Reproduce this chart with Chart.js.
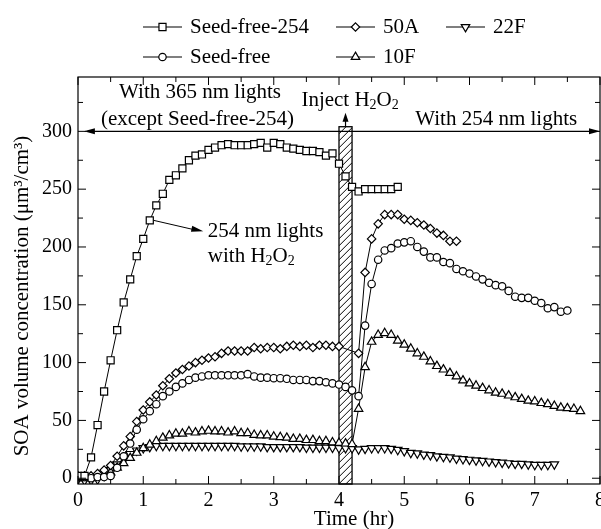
<!DOCTYPE html>
<html>
<head>
<meta charset="utf-8">
<script src="https://cdn.jsdelivr.net/npm/chart.js"></script>
<style>
  html, body { margin: 0; padding: 0; overflow: hidden; background: #fff; }
  #wrap { width: 620px; height: 529px; }
</style>
</head>
<body>
<div id="wrap"><canvas id="soa-chart" width="620" height="529"></canvas></div>
<script>
// sampling times (hr), shared by every series
const hours = [0, 0.1, 0.2, 0.3, 0.4, 0.5, 0.6, 0.7, 0.8, 0.9,
  1, 1.1, 1.2, 1.3, 1.4, 1.5, 1.6, 1.7, 1.8, 1.9,
  2, 2.1, 2.2, 2.3, 2.4, 2.5, 2.6, 2.7, 2.8, 2.9,
  3, 3.1, 3.2, 3.3, 3.4, 3.5, 3.6, 3.7, 3.8, 3.9,
  4, 4.1, 4.2, 4.3, 4.4, 4.5, 4.6, 4.7, 4.8, 4.9,
  5, 5.1, 5.2, 5.3, 5.4, 5.5, 5.6, 5.7, 5.8, 5.9,
  6, 6.1, 6.2, 6.3, 6.4, 6.5, 6.6, 6.7, 6.8, 6.9,
  7, 7.1, 7.2, 7.3, 7.4, 7.5, 7.6, 7.7];

// SOA volume (um3/cm3), index-aligned with hours
const seedFree254 = [2, 2, 18, 46, 75, 102, 128, 152, 172, 192,
  207, 223, 236, 246, 258, 262, 268, 275, 279, 280,
  284, 286, 288, 289, 288, 288, 288, 289, 290, 286,
  290, 289, 286, 285, 284, 283, 283, 282, 279, 281,
  272, 261, 252, 248, 250, 250, 250, 250, 250, 252];

const seedFree = [1, 1, 0, 1, 1, 2, 9, 19, 30, 42,
  51, 58, 64, 71, 75, 79, 82, 85, 87, 88,
  89, 89, 89, 89, 89, 89, 90, 88, 87, 87,
  86.5, 86.5, 86, 85, 85, 85, 84, 84, 83, 82,
  81, 79, 76, 71, 132, 168, 189, 197, 199, 203,
  204, 205, 200, 196, 191, 191, 187, 186, 181, 179,
  177, 174.5, 172, 169, 167, 166, 162, 157, 156, 156,
  153.5, 151.5, 147, 148, 144, 145];

const fiftyA = [2, 2, 2, 4, 7, 11, 19, 28, 36, 49,
  59, 66, 72, 80, 86, 91, 94, 97, 100, 102,
  104, 105, 108, 110, 110, 110, 110, 113, 112, 113,
  113, 112, 114, 115, 114, 115, 113, 115, 115, 114,
  114, null, null, 108, 178, 207, 220, 228, 228, 228,
  224, 223, 221, 219, 216, 212, 210, 205, 205];

const tenF = [0, 0, 0, 1, 2, 5, 9, 13, 17.5, 22,
  26, 29, 32, 35, 37, 38.5, 38.5, 40.5, 39.5, 40.5,
  41, 40.5, 40.5, 39.5, 40.5, 39, 39, 37.5, 37, 37,
  36, 35.5, 35, 34, 34, 33, 33, 32, 32, 31,
  30.5, 30, 29.5, 60, 96, 118, 124, 125.5, 124, 119,
  115.5, 112, 108, 105, 101, 97, 94, 91, 88, 84.5,
  82, 80, 78, 76, 74, 73, 71.5, 70, 68.5, 67,
  66.5, 65, 64, 62.5, 61, 60.5, 60, 58];

const twentyTwoF = [-1, -2, -2, -1, 2, 7, 12, 17, 21, 24,
  26, 27, 28, 28, 28, 28, 28, 28, 28, 28,
  28, 28, 28, 28, 28, 27.5, 27.5, 27.5, 27.5, 27,
  27, 27, 27, 27, 27, 26.5, 26.5, 26.5, 26.5, 26.5,
  26, 26, 26, 25, 25.5, 26, 26, 26, 25.5, 24.5,
  23.5, 22, 21.5, 20.5, 20, 19, 18.5, 18, 17, 16.5,
  16, 15.5, 15, 14.5, 14, 13.5, 13, 12.5, 12.5, 12,
  11.5, 11.5, 11.5, 12];

const xTickValues = [0, 0.5, 1, 1.5, 2, 2.5, 3, 3.5, 4, 4.5, 5, 5.5, 6, 6.5, 7, 7.5, 8];
const yTickValues = [0, 25, 50, 75, 100, 125, 150, 175, 200, 225, 250, 275, 300, 325];

const FONT = '"Liberation Serif", "Times New Roman", serif';
Chart.defaults.font.family = FONT;
Chart.defaults.font.size = 20;
Chart.defaults.color = '#000';

const SERIES = [
  { label: 'Seed-free-254', values: seedFree254, style: 'rect', r: 5, rot: 0, col: 0, row: 0 },
  { label: 'Seed-free', values: seedFree, style: 'circle', r: 3.7, rot: 0, col: 0, row: 1 },
  { label: '50A', values: fiftyA, style: 'rectRot', r: 4.2, rot: 0, col: 1, row: 0 },
  { label: '10F', values: tenF, style: 'triangle', r: 4.9, rot: 0, col: 1, row: 1 },
  { label: '22F', values: twentyTwoF, style: 'triangle', r: 4.9, rot: 180, col: 2, row: 0 },
];

function toPoints(values) {
  return values.map((v, i) => ({ x: hours[i], y: v })).filter(p => p.y !== null);
}

function drawMarker(ctx, s, x, y) {
  ctx.beginPath();
  if (s.style === 'rect') {
    const h = s.r * Math.SQRT1_2;
    ctx.rect(x - h, y - h, 2 * h, 2 * h);
  } else if (s.style === 'circle') {
    ctx.arc(x, y, s.r, 0, Math.PI * 2);
  } else if (s.style === 'rectRot') {
    ctx.moveTo(x, y - s.r); ctx.lineTo(x + s.r, y); ctx.lineTo(x, y + s.r); ctx.lineTo(x - s.r, y);
    ctx.closePath();
  } else {
    const d = s.rot ? -1 : 1;
    ctx.moveTo(x, y - d * s.r);
    ctx.lineTo(x + 0.866 * s.r, y + d * 0.5 * s.r);
    ctx.lineTo(x - 0.866 * s.r, y + d * 0.5 * s.r);
    ctx.closePath();
  }
  ctx.fillStyle = '#fff';
  ctx.fill();
  ctx.stroke();
}

// text with subscripts: parts = [[text, isSub], ...]
function rich(ctx, parts, x, y, align) {
  const widths = parts.map(([t, sub]) => {
    ctx.font = (sub ? 14 : 21) + 'px ' + FONT;
    return ctx.measureText(t).width;
  });
  const total = widths.reduce((a, b) => a + b, 0);
  let cx = align === 'center' ? x - total / 2 : x;
  ctx.textAlign = 'left';
  ctx.textBaseline = 'middle';
  ctx.fillStyle = '#000';
  parts.forEach(([t, sub], i) => {
    ctx.font = (sub ? 14 : 21) + 'px ' + FONT;
    ctx.fillText(t, cx, sub ? y + 5 : y);
    cx += widths[i];
  });
}

function arrowHead(ctx, x, y, angle, len, half) {
  ctx.save();
  ctx.translate(x, y);
  ctx.rotate(angle);
  ctx.beginPath();
  ctx.moveTo(0, 0);
  ctx.lineTo(-len, -half);
  ctx.lineTo(-len, half);
  ctx.closePath();
  ctx.fillStyle = '#000';
  ctx.fill();
  ctx.restore();
}

const legendBox = {
  id: 'legendBox',
  afterDraw(chart) {
    const ctx = chart.ctx;
    const colX = [143, 336, 446];
    const rowY = [27, 57];
    ctx.save();
    ctx.strokeStyle = '#000';
    ctx.lineWidth = 1.2;
    SERIES.forEach(s => {
      const x0 = colX[s.col], y = rowY[s.row];
      ctx.beginPath();
      ctx.moveTo(x0, y); ctx.lineTo(x0 + 39, y);
      ctx.stroke();
      drawMarker(ctx, s, x0 + 19.5, y);
      ctx.fillStyle = '#000';
      ctx.font = '21px ' + FONT;
      ctx.textAlign = 'left';
      ctx.textBaseline = 'middle';
      ctx.fillText(s.label, x0 + 47, y);
    });
    ctx.restore();
  }
};

const injectBand = {
  id: 'injectBand',
  beforeDatasetsDraw(chart) {
    const { ctx, scales: { x, y } } = chart;
    const x0 = x.getPixelForValue(4.0), x1 = x.getPixelForValue(4.2);
    const top = y.getPixelForValue(304), bottom = chart.chartArea.bottom;
    ctx.save();
    ctx.fillStyle = '#fff';
    ctx.fillRect(x0, top, x1 - x0, bottom - top);
    ctx.beginPath();
    ctx.rect(x0, top, x1 - x0, bottom - top);
    ctx.clip();
    ctx.strokeStyle = '#000';
    ctx.lineWidth = 1;
    ctx.beginPath();
    for (let yy = top - 20; yy < bottom + 20; yy += 7) {
      ctx.moveTo(x0, yy + (x1 - x0));
      ctx.lineTo(x1, yy);
    }
    ctx.stroke();
    ctx.restore();
    ctx.save();
    ctx.strokeStyle = '#000';
    ctx.lineWidth = 1.3;
    ctx.strokeRect(x0, top, x1 - x0, bottom - top);
    ctx.restore();
  }
};

const frameAndNotes = {
  id: 'frameAndNotes',
  afterDatasetsDraw(chart) {
    const { ctx, chartArea: a, scales: { x, y } } = chart;
    ctx.save();
    ctx.strokeStyle = '#000';
    ctx.lineWidth = 1.2;
    ctx.strokeRect(a.left, a.top, a.right - a.left, a.bottom - a.top);
    ctx.lineWidth = 1;
    ctx.beginPath();
    xTickValues.forEach(v => {
      const px = x.getPixelForValue(v);
      const len = Number.isInteger(v) ? 8 : 5;
      ctx.moveTo(px, a.bottom); ctx.lineTo(px, a.bottom - len);
      ctx.moveTo(px, a.top); ctx.lineTo(px, a.top + len);
    });
    yTickValues.forEach(v => {
      const py = y.getPixelForValue(v);
      const len = v % 50 === 0 ? 8 : 5;
      ctx.moveTo(a.left, py); ctx.lineTo(a.left + len, py);
      ctx.moveTo(a.right, py); ctx.lineTo(a.right - len, py);
    });
    ctx.stroke();

    // two-headed arrow at 300
    const yArr = y.getPixelForValue(300);
    const xl = x.getPixelForValue(0.09), xr = x.getPixelForValue(8);
    ctx.lineWidth = 1.2;
    ctx.beginPath();
    ctx.moveTo(xl + 4, yArr); ctx.lineTo(xr - 4, yArr);
    ctx.stroke();
    arrowHead(ctx, xl, yArr, Math.PI, 11, 3);
    arrowHead(ctx, xr, yArr, 0, 11, 3);

    // injection arrow
    const xi = x.getPixelForValue(4.1);
    const yTop = y.getPixelForValue(304), yTip = y.getPixelForValue(316);
    ctx.beginPath();
    ctx.moveTo(xi, yTop); ctx.lineTo(xi, yTip + 6);
    ctx.stroke();
    arrowHead(ctx, xi, yTip, -Math.PI / 2, 9, 3);

    // arrow to Seed-free-254 curve
    const sx = x.getPixelForValue(1.1) + 4, sy = y.getPixelForValue(223);
    const tx = x.getPixelForValue(1.92), ty = y.getPixelForValue(213.5);
    ctx.lineWidth = 1;
    ctx.beginPath();
    ctx.moveTo(sx, sy); ctx.lineTo(tx - 8, ty - 1.4);
    ctx.stroke();
    arrowHead(ctx, tx, ty, Math.atan2(ty - sy, tx - sx), 12, 3);

    rich(ctx, [['254 nm lights', 0]], x.getPixelForValue(1.99), ty, 'left');
    rich(ctx, [['with H', 0], ['2', 1], ['O', 0], ['2', 1]], x.getPixelForValue(1.99), ty + 25, 'left');

    rich(ctx, [['With 365 nm lights', 0]], x.getPixelForValue(1.87), y.getPixelForValue(333.5), 'center');
    rich(ctx, [['(except Seed-free-254)', 0]], x.getPixelForValue(1.83), y.getPixelForValue(310), 'center');
    rich(ctx, [['Inject H', 0], ['2', 1], ['O', 0], ['2', 1]], x.getPixelForValue(4.17), y.getPixelForValue(326.5), 'center');
    rich(ctx, [['With 254 nm lights', 0]], x.getPixelForValue(6.41), y.getPixelForValue(310), 'center');
    ctx.restore();
  }
};

const axisTitles = {
  id: 'axisTitles',
  afterDraw(chart) {
    const ctx = chart.ctx;
    ctx.save();
    ctx.fillStyle = '#000';
    ctx.font = '21px ' + FONT;
    ctx.textAlign = 'center';
    ctx.textBaseline = 'middle';
    ctx.fillText('Time (hr)', 354, 519);
    ctx.translate(22, 296);
    ctx.rotate(-Math.PI / 2);
    ctx.fillText('SOA volume concentration (\u03bcm\u00b3/cm\u00b3)', 0, 0);
    ctx.restore();
  }
};

new Chart(document.getElementById('soa-chart').getContext('2d'), {
  type: 'line',
  data: {
    datasets: SERIES.map(s => ({
      label: s.label,
      data: toPoints(s.values),
      borderColor: '#000',
      borderWidth: 1,
      backgroundColor: '#fff',
      pointStyle: s.style,
      pointRadius: s.r,
      pointHoverRadius: s.r,
      pointRotation: s.rot,
      pointBackgroundColor: '#fff',
      pointBorderColor: '#000',
      pointBorderWidth: 1.2,
      tension: 0,
      fill: false,
      spanGaps: true,
    })),
  },
  options: {
    responsive: false,
    animation: false,
    events: [],
    layout: { padding: { top: 77, right: 20, bottom: 0, left: 0 } },
    plugins: { legend: { display: false }, tooltip: { enabled: false } },
    scales: {
      x: {
        type: 'linear',
        min: 0,
        max: 8,
        grid: { display: false, drawTicks: false },
        border: { display: false },
        afterBuildTicks: s => { s.ticks = xTickValues.map(v => ({ value: v })); },
        afterFit: s => { s.height = 45; },
        ticks: {
          autoSkip: false,
          maxRotation: 0,
          padding: 5,
          font: { size: 20 },
          callback: v => Number.isInteger(v) ? String(v) : '',
        },
      },
      y: {
        type: 'linear',
        min: -5,
        max: 347,
        grid: { display: false, drawTicks: false },
        border: { display: false },
        afterBuildTicks: s => { s.ticks = yTickValues.map(v => ({ value: v })); },
        afterFit: s => { s.width = 78; },
        ticks: {
          autoSkip: false,
          padding: 6,
          font: { size: 20 },
          callback: v => v % 50 === 0 ? String(v) : '',
        },
      },
    },
  },
  plugins: [injectBand, frameAndNotes, legendBox, axisTitles],
});
</script>
</body>
</html>
